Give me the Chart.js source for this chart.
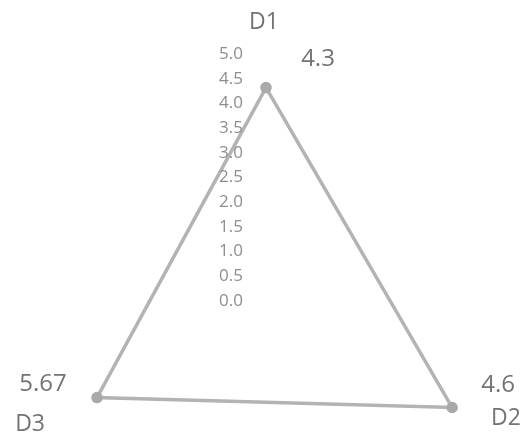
<!DOCTYPE html>
<html>
<head>
<meta charset="utf-8">
<script src="https://cdn.jsdelivr.net/npm/chart.js@4.4.1/dist/chart.umd.min.js"></script>
<style>
    html, body { margin: 0; padding: 0; background: #ffffff; }
    #wrap { width: 527px; height: 443px; position: relative; }
</style>
</head>
<body>
<div id="wrap"><canvas id="radarChart"></canvas></div>
<script>
// Dados do gráfico
const categories = ['D1', 'D2', 'D3'];
const plottedValues = [4.3, 4.35, 3.95];
// rótulos de valor como aparecem impressos junto aos pontos
const valueLabels = ['4.3', '4.6', '5.67'];
const scaleMin = 0;
const scaleMax = 5;
const scaleStep = 0.5;

// Estilos
const lineColor = '#b3b3b3';
const tickColor = '#8e8e8e';
const labelColor = '#737373';
const fontFamily = '"Open Sans", "Liberation Sans", sans-serif';

// deslocamentos (px) dos textos
const valueLabelOffsets = [[52, -28], [46, -22], [-54, -13]];
const pointLabelOffsets = [[-2, -31], [26, -5], [-22, 1]];

// Plugin: marcas da escala à esquerda do eixo D1
const tickLabelsPlugin = {
    id: 'tickLabels',
    afterDatasetsDraw(chart) {
        const scale = chart.scales.r;
        const ctx = chart.ctx;
        ctx.save();
        ctx.font = '17px ' + fontFamily;
        ctx.fillStyle = tickColor;
        ctx.textAlign = 'right';
        ctx.textBaseline = 'middle';
        scale.ticks.forEach(t => {
            const d = scale.getDistanceFromCenterForValue(t.value);
            ctx.fillText(t.value.toFixed(1), scale.xCenter - 23, scale.yCenter - d + 1);
        });
        ctx.restore();
    }
};

// Plugin: nomes das categorias e rótulos de valor
const labelsPlugin = {
    id: 'radarLabels',
    afterDatasetsDraw(chart) {
        const scale = chart.scales.r;
        const ctx = chart.ctx;
        const meta = chart.getDatasetMeta(0);
        ctx.save();
        ctx.fillStyle = labelColor;
        ctx.textAlign = 'center';
        ctx.textBaseline = 'middle';
        ctx.font = '23px ' + fontFamily;
        categories.forEach((c, i) => {
            const p = scale.getPointPosition(i, scale.drawingArea);
            ctx.fillText(c, p.x + pointLabelOffsets[i][0], p.y + pointLabelOffsets[i][1]);
        });
        ctx.font = '24px ' + fontFamily;
        meta.data.forEach((pt, i) => {
            ctx.fillText(valueLabels[i], pt.x + valueLabelOffsets[i][0], pt.y + valueLabelOffsets[i][1]);
        });
        ctx.restore();
    }
};

const ctx = document.getElementById('radarChart');
const radarChart = new Chart(ctx, {
    type: 'radar',
    data: {
        labels: categories,
        datasets: [{
            label: 'Série 1',
            data: plottedValues,
            borderColor: lineColor,
            backgroundColor: 'rgba(0,0,0,0)',
            borderWidth: 3.5,
            pointRadius: 4,
            pointBackgroundColor: '#a9a9a9',
            pointBorderColor: '#a9a9a9',
            fill: false
        }]
    },
    options: {
        responsive: true,
        maintainAspectRatio: false,
        animation: false,
        plugins: {
            legend: { display: false },
            tooltip: { enabled: false }
        },
        scales: {
            r: {
                min: scaleMin,
                max: scaleMax,
                ticks: { stepSize: scaleStep, display: false },
                grid: { display: false },
                angleLines: { display: false },
                pointLabels: { display: false },
                // centro e raio iguais ao gráfico original
                afterFit(scale) {
                    scale.xCenter = 266;
                    scale.yCenter = 300;
                    scale.drawingArea = 247;
                }
            }
        }
    },
    plugins: [tickLabelsPlugin, labelsPlugin]
});
</script>
</body>
</html>
